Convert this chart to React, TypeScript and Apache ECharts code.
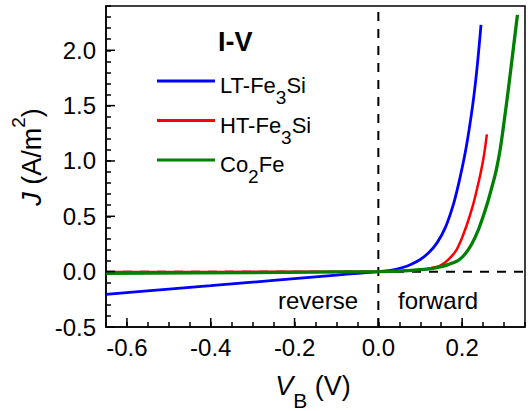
import React, { useEffect, useRef } from 'react';
import * as echarts from 'echarts';

// LT-Fe3Si
const ltV = [-0.65, -0.5, -0.4, -0.3, -0.2, -0.1, -0.05, 0, 0.03, 0.06, 0.08, 0.1, 0.12, 0.14, 0.16, 0.18, 0.195, 0.21, 0.225, 0.235, 0.245];
const ltJ = [-0.205, -0.158, -0.127, -0.095, -0.063, -0.031, -0.015, 0, 0.012, 0.04, 0.07, 0.11, 0.17, 0.26, 0.4, 0.62, 0.85, 1.13, 1.5, 1.82, 2.23];
// HT-Fe3Si
const htV = [-0.65, -0.4, -0.2, 0, 0.05, 0.1, 0.125, 0.145, 0.16, 0.175, 0.187, 0.197, 0.21, 0.225, 0.235, 0.244, 0.252, 0.259];
const htJ = [-0.003, -0.002, -0.001, 0, 0.005, 0.018, 0.032, 0.05, 0.085, 0.14, 0.2, 0.28, 0.41, 0.59, 0.74, 0.89, 1.05, 1.24];
// Co2Fe
const cfV = [-0.65, -0.3, 0, 0.05, 0.1, 0.13, 0.15, 0.17, 0.19, 0.205, 0.223, 0.24, 0.258, 0.27, 0.281, 0.291, 0.301, 0.311, 0.321, 0.332];
const cfJ = [-0.015, -0.008, 0, 0.005, 0.018, 0.03, 0.045, 0.068, 0.1, 0.15, 0.25, 0.39, 0.59, 0.75, 0.91, 1.11, 1.38, 1.67, 1.98, 2.32];

const seriesNames = ['LT-Fe3Si', 'HT-Fe3Si', 'Co2Fe'];
const seriesColors = ['#0000ff', '#ff0000', '#008000'];
const seriesWidths = [2.8, 2.5, 3.3];

const xMajorTicks = [-0.6, -0.4, -0.2, 0, 0.2];
const yMajorTicks = [-0.5, 0, 0.5, 1.0, 1.5, 2.0];
const X_MIN = -0.65, X_MAX = 0.35, X_STEP = 0.05;
const Y_MIN = -0.5, Y_MAX = 2.4, Y_STEP = 0.1;
const ZERO = 0;

const FONT = 'Liberation Sans, Arial, Helvetica, sans-serif';

const zip = (a: number[], b: number[]) => a.map((v, i) => [v, b[i]]);
const isMult = (v: number, m: number) => Math.abs(Math.round(v / m) * m - v) < 1e-6;

export default function App() {
  const ref = useRef<HTMLDivElement>(null);
  useEffect(() => {
    document.body.style.margin = '0';
    const chart = echarts.init(ref.current!, null, { renderer: 'svg' });
    const dashed = () => ({ color: '#000', width: 2, type: [9, 8], dashOffset: 0 });
    const refLines = [
      {
        type: 'line',
        name: 'v0',
        data: [[ZERO, Y_MIN], [ZERO, Y_MAX]],
        showSymbol: false,
        symbol: 'none',
        silent: true,
        z: 1,
        lineStyle: dashed(),
      },
      {
        type: 'line',
        name: 'h0',
        data: [[X_MIN, ZERO], [X_MAX, ZERO]],
        showSymbol: false,
        symbol: 'none',
        silent: true,
        z: 1,
        lineStyle: dashed(),
      },
    ];
    const lineSeries = [zip(ltV, ltJ), zip(htV, htJ), zip(cfV, cfJ)].map((d, i) => ({
      type: 'line',
      name: seriesNames[i],
      data: d,
      showSymbol: false,
      symbol: 'none',
      smooth: 0.35,
      lineStyle: { color: seriesColors[i], width: seriesWidths[i] },
      itemStyle: { color: seriesColors[i] },
      z: 3 + i,
    }));
    const tickSeries = (vals: number[], isX: boolean) => ({
      type: 'custom',
      silent: true,
      z: 10,
      data: vals.map((v) => (isX ? [v, Y_MIN] : [X_MIN, v])),
      renderItem: (_p: any, api: any) => {
        const p = api.coord([api.value(0), api.value(1)]);
        return {
          type: 'line',
          shape: isX
            ? { x1: p[0], y1: p[1], x2: p[0], y2: p[1] - 9 }
            : { x1: p[0], y1: p[1], x2: p[0] + 9, y2: p[1] },
          style: { stroke: '#000', lineWidth: 1.5 },
        };
      },
    });
    const richLegend = {
      b: { fontSize: 22, fontFamily: FONT, color: '#000', lineHeight: 26, padding: [6.5, 0, 0, 0], verticalAlign: 'top' },
      sub: { fontSize: 19, fontFamily: FONT, color: '#000', lineHeight: 19, padding: [20, 0, 0, 0], verticalAlign: 'top' },
    };
    chart.setOption({
      animation: false,
      grid: { left: 106, right: 3, top: 6, bottom: 84, show: true, borderColor: '#000', borderWidth: 1.5 },
      xAxis: {
        type: 'value',
        min: X_MIN,
        max: X_MAX,
        interval: X_STEP,
        axisLine: { onZero: false, lineStyle: { color: '#000', width: 1.5 } },
        axisTick: { inside: true, length: 5, lineStyle: { color: '#000', width: 1.5 } },
        splitLine: { show: false },
        axisLabel: {
          color: '#000',
          fontSize: 24,
          fontFamily: FONT,
          margin: 8,
          formatter: (v: number) => (isMult(v, 0.2) ? v.toFixed(1) : ''),
        },
      },
      yAxis: {
        type: 'value',
        min: Y_MIN,
        max: Y_MAX,
        interval: Y_STEP,
        axisLine: { onZero: false, lineStyle: { color: '#000', width: 1.5 } },
        axisTick: { inside: true, length: 5, lineStyle: { color: '#000', width: 1.5 } },
        splitLine: { show: false },
        axisLabel: {
          color: '#000',
          fontSize: 24,
          fontFamily: FONT,
          margin: 10,
          formatter: (v: number) => (isMult(v, 0.5) ? v.toFixed(1) : ''),
        },
      },
      legend: {
        data: seriesNames,
        orient: 'vertical',
        left: 152,
        top: 63,
        itemWidth: 58,
        itemHeight: 3,
        itemGap: 0.5,
        icon: 'rect',
        textStyle: { fontSize: 22, fontFamily: FONT, color: '#000', rich: richLegend },
        formatter: (name: string) => name.replace(/^(.*?)(\d)(.*)$/, '{b|$1}{sub|$2}{b|$3}'),
      },
      graphic: [
        {
          type: 'text',
          left: 218,
          top: 28,
          style: { text: 'I-V', font: `bold 27px ${FONT}`, fill: '#000' },
        },
        {
          type: 'text',
          x: 318,
          y: 300,
          style: { text: 'reverse', font: `24px ${FONT}`, fill: '#000', align: 'center', verticalAlign: 'middle' },
        },
        {
          type: 'text',
          x: 438,
          y: 300,
          style: { text: 'forward', font: `24px ${FONT}`, fill: '#000', align: 'center', verticalAlign: 'middle' },
        },
        {
          type: 'text',
          x: 313,
          y: 372,
          style: {
            text: '{i|V}{sub|B}{b| (V)}',
            align: 'center',
            verticalAlign: 'top',
            rich: {
              i: { fontSize: 27, fontStyle: 'italic', fontFamily: FONT, fill: '#000', lineHeight: 30, verticalAlign: 'top' },
              b: { fontSize: 27, fontFamily: FONT, fill: '#000', lineHeight: 30, verticalAlign: 'top' },
              sub: { fontSize: 21, fontFamily: FONT, fill: '#000', lineHeight: 16, padding: [18, 0, 0, 0], verticalAlign: 'top' },
            },
          },
        },
        {
          type: 'text',
          x: 30,
          y: 157,
          rotation: Math.PI / 2,
          style: {
            text: '{i|J}{b| (A/m}{sup|2}{b|)}',
            align: 'center',
            verticalAlign: 'middle',
            rich: {
              i: { fontSize: 27, fontStyle: 'italic', fontFamily: FONT, fill: '#000', lineHeight: 30, verticalAlign: 'bottom' },
              b: { fontSize: 27, fontFamily: FONT, fill: '#000', lineHeight: 30, verticalAlign: 'bottom' },
              sup: { fontSize: 19, fontFamily: FONT, fill: '#000', lineHeight: 19, padding: [0, 0, 17, 0], verticalAlign: 'bottom' },
            },
          },
        },
      ],
      series: [...refLines, ...lineSeries, tickSeries(xMajorTicks, true), tickSeries(yMajorTicks, false)],
    });
    return () => chart.dispose();
  }, []);
  return <div ref={ref} style={{ width: 528, height: 411, position: 'absolute', left: 0, top: 0 }} />;
}
